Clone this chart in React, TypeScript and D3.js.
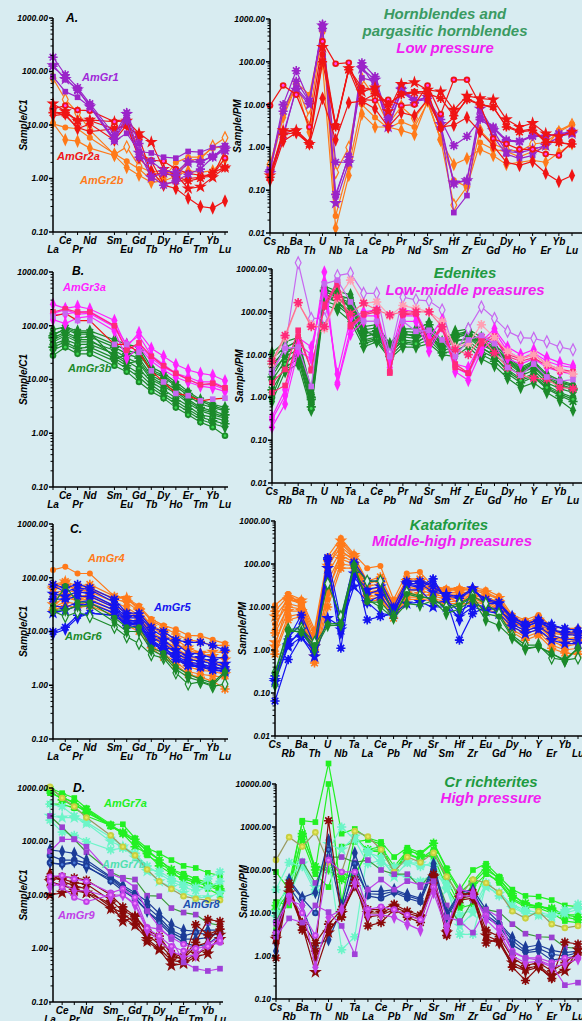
import React from "react";
import * as d3 from "d3";

const W = 582;
const H = 1021;
const BG = "#d8ecf1";
const FONT = "'Liberation Sans', Arial, sans-serif";

// element orders
const reeAxis = ["La", "Ce", "Pr", "Nd", "Pm", "Sm", "Eu", "Gd", "Tb", "Dy", "Ho", "Er", "Tm", "Yb", "Lu"];
const reeEls = ["La", "Ce", "Pr", "Nd", "Sm", "Eu", "Gd", "Tb", "Dy", "Ho", "Er", "Tm", "Yb", "Lu"];
const pmEls = ["Cs", "Rb", "Ba", "Th", "U", "Nb", "Ta", "La", "Ce", "Pb", "Pr", "Nd", "Sr", "Sm", "Hf", "Zr", "Eu", "Gd", "Dy", "Ho", "Y", "Er", "Yb", "Lu"];

// ---- A. hornblendes ----
const amGr1Ree = [
  [185, 87, 50, 25, 6.5, 17, 4.5, 1.1, 0.75, 0.9, 1.2, 1.5, 2.5, 4.0],
  [130, 72, 46, 22, 5.2, 16, 3.0, 1.05, 1.3, 1.1, 2.0, 2.1, 2.6, 3.5],
  [80, 42, 33, 22, 5.0, 7.0, 3.2, 3.0, 2.5, 2.4, 3.2, 3.1, 3.8, 4.1],
  [125, 75, 45, 23, 5.5, 12, 2.5, 2.1, 1.4, 1.3, 2.1, 2.0, 2.6, 3.3],
];
const amGr2aRee = [
  [25, 18, 12, 12.5, 11.5, 12, 7.0, 4.8, 1.5, 1.2, 0.65, 0.7, 1.05, 1.6],
  [20, 23, 19, 18.5, 11.5, 12.5, 3.0, 2.2, 2.1, 1.5, 1.25, 1.15, 1.15, 2.4],
  [15, 16, 8.5, 10.5, 5.2, 10, 2.4, 1.4, 0.75, 0.65, 0.43, 0.3, 0.28, 0.38],
  [17, 17, 12, 12, 8.5, 10, 6.0, 1.2, 1.25, 1.1, 0.9, 1.0, 1.3, 1.6],
  [18, 15, 9, 7.5, 8.5, 9.5, 2.6, 2.1, 0.8, 0.85, 1.0, 1.05, 1.1, 3.3],
];
const amGr2bRee = [
  [75, 30, 17, 8.0, 2.8, 3.9, 1.7, 1.3, 1.4, 1.15, 2.2, 2.3, 4.0, 5.8],
  [11, 5.3, 5.0, 3.7, 2.7, 1.6, 1.15, 0.85, 0.9, 1.1, 1.4, 1.3, 1.4, 2.3],
  [10.5, 9.0, 8.5, 5.8, 2.9, 2.1, 1.5, 0.95, 1.0, 2.0, 2.5, 2.5, 3.7, 4.0],
];
const amGr1Pm = [
  [0.3, 10, 62, 12, 750, 0.08, 0.6, 95, 45, 4.5, 25, 13, 14, 4.5, 1.1, 1.8, 4.5, 2.8, 1.4, 1.35, 1.8, 1.8, 2.1, 2.3],
  [0.25, 2.0, 22, 10, 700, 0.05, 0.45, 70, 38, 3.0, 22, 12, 15, 3.5, 0.15, 0.17, 8.0, 2.5, 0.8, 0.75, 0.9, 1.1, 1.8, 2.1],
  [0.2, 1.7, 25, 11, 650, 0.07, 0.65, 42, 35, 2.8, 20, 12, 13, 3.0, 0.03, 0.075, 7.0, 1.8, 0.7, 0.55, 0.65, 1.2, 1.7, 2.5],
  [0.28, 7.0, 35, 12, 600, 0.45, 0.45, 80, 25, 5.0, 25, 11, 16, 3.0, 0.14, 0.17, 5.0, 3.0, 1.5, 1.4, 1.9, 1.9, 2.0, 2.2],
];
const amGr2aPm = [
  [0.22, 2.5, 2.5, 1.2, 220, 3.2, 70, 20, 25, 7.0, 30, 33, 22, 20, 7.5, 16, 14, 13, 4.5, 3.0, 3.7, 2.1, 1.8, 2.3],
  [9.5, 28, 17, 3.0, 300, 90, 95, 13, 12.5, 13, 9.5, 10, 28, 6.0, 38, 38, 10, 1.6, 1.2, 0.9, 0.9, 0.7, 0.65, 1.35],
  [0.17, 1.4, 2.2, 1.2, 14, 1.5, 11, 12, 8.0, 3.0, 6.5, 5.5, 13, 3.0, 3.3, 5.0, 2.3, 1.1, 0.45, 0.38, 0.47, 0.25, 0.16, 0.22],
  [0.2, 2.0, 2.2, 1.2, 100, 3.0, 65, 12, 18, 10, 17, 19, 18, 14, 5.5, 13, 10, 9.0, 3.0, 2.3, 2.5, 1.3, 1.3, 1.2],
  [0.2, 2.2, 2.5, 1.3, 150, 3.3, 70, 25, 22, 10, 18, 20, 20, 2.7, 5.0, 14, 10, 8.5, 3.2, 2.4, 2.7, 1.4, 1.3, 1.15],
];
const amGr2bPm = [
  [0.4, 6.0, 30, 5.0, 550, 0.26, 1.0, 40, 15, 3.5, 9.0, 4.8, 13, 1.5, 0.045, 0.12, 2.5, 1.2, 0.9, 0.8, 1.2, 1.3, 2.3, 3.4],
  [0.3, 5.0, 27, 2.3, 90, 0.013, 0.22, 6.0, 3.0, 3.0, 2.5, 2.0, 12, 1.5, 0.4, 0.55, 0.9, 0.65, 0.4, 0.45, 0.5, 0.45, 0.75, 1.2],
  [0.35, 7.0, 33, 17, 500, 0.025, 0.35, 10, 5.0, 2.8, 4.0, 3.0, 11, 1.6, 0.17, 0.12, 1.3, 0.9, 0.8, 0.6, 0.8, 1.0, 2.5, 3.5],
];

// ---- B. edenites ----
const amGr3aRee = [
  [250, 210, 230, 205, 125, 40, 75, 38, 27, 19, 15, 13, 12, 9.5],
  [170, 200, 165, 170, 95, 35, 45, 25, 17, 13, 10, 8, 8, 6.5],
  [130, 110, 140, 150, 80, 25, 40, 22, 15, 11, 9, 7.5, 7, 6],
  [160, 165, 180, 185, 100, 45, 65, 28, 19, 13, 11, 9, 9, 7],
  [180, 205, 180, 180, 100, 35, 48, 27, 18, 13, 10, 8, 8.5, 7],
  [150, 170, 125, 125, 45, 45, 32, 14.5, 9, 5.5, 5, 4, 4.3, 4.5],
];
const amGr3bRee = [
  [85, 95, 80, 80, 55, 45, 40, 17, 13, 9, 6, 4.2, 3.5, 3],
  [70, 85, 70, 70, 45, 35, 30, 14, 11, 7.5, 5, 3.5, 3, 2.6],
  [60, 75, 60, 62, 40, 30, 25, 12, 9, 6.5, 4.3, 3, 2.6, 2.2],
  [50, 65, 50, 50, 35, 25, 20, 10, 7.5, 5.5, 3.6, 2.6, 2.2, 1.9],
  [45, 55, 45, 45, 30, 22, 16, 9, 6.5, 4.5, 3.2, 2.2, 2, 1.7],
  [40, 50, 38, 40, 25, 18, 13, 8, 5.5, 4, 2.8, 2, 1.7, 1.5],
  [35, 45, 35, 35, 22, 16, 11, 7, 5, 3.5, 2.5, 1.8, 1.5, 1.3],
  [28, 40, 30, 30, 18, 14, 9, 6, 4.5, 3, 2.2, 1.6, 1.3, 0.9],
  [65, 90, 75, 75, 25, 28, 35, 15, 12, 8, 5.5, 4, 3.2, 2.8],
  [55, 70, 55, 55, 28, 20, 22, 11, 8, 6, 4, 2.8, 2.4, 2.0],
];
const amGr3aPm = [
  [4, 14, 1400, 70, 70, 700, 800, 270, 270, 10, 220, 190, 180, 110, 10, 40, 130, 70, 35, 25, 24, 20, 15, 13],
  [0.2, 0.7, 12, 8, 850, 2, 30, 60, 60, 5, 60, 60, 12, 45, 4, 2.5, 12, 25, 8, 6, 8, 5, 4, 3.5],
  [0.3, 1.1, 18, 10, 500, 2.2, 40, 80, 80, 6, 80, 80, 15, 55, 5, 3.5, 15, 35, 12, 8, 11, 7, 5.5, 5],
  [0.35, 1.5, 25, 15, 300, 3.5, 70, 100, 110, 8, 110, 100, 25, 65, 6, 5, 20, 40, 15, 10, 13, 8.5, 6.5, 5.5],
  [2.2, 4.5, 37, 4.2, 150, 500, 50, 90, 110, 4, 90, 95, 18, 47, 6, 3.7, 22, 27, 10, 8, 10, 6, 4.5, 4],
  [1.3, 1.9, 27, 4.5, 130, 430, 45, 85, 100, 3.7, 85, 90, 20, 40, 5, 3.7, 18, 25, 9, 7, 8.5, 5.5, 4, 3.8],
  [6, 25, 160, 50, 40, 200, 550, 160, 170, 80, 140, 120, 100, 60, 15, 18, 50, 25, 12, 8, 10, 6, 4.5, 3.5],
  [7, 28, 165, 45, 45, 220, 90, 160, 110, 85, 100, 100, 100, 45, 13, 10, 25, 11, 5, 3.3, 2.8, 2.7, 1.7, 1.6],
  [3.8, 14, 15, 1.8, 450, 550, 170, 60, 60, 9, 60, 35, 37, 22, 9, 22, 28, 18, 5, 3.3, 6, 3, 2.4, 2.6],
];
const amGr3bPm = [
  [11, 20, 25, 1.5, 400, 300, 250, 45, 50, 18, 40, 40, 55, 20, 35, 40, 25, 17, 9, 5, 7, 3.5, 2.5, 2.0],
  [8, 15, 20, 1.2, 350, 250, 200, 38, 42, 15, 35, 33, 45, 18, 30, 35, 20, 14, 7.5, 4.3, 6, 3, 2.2, 1.8],
  [6, 12, 16, 1.0, 300, 220, 160, 32, 36, 13, 30, 28, 38, 16, 25, 30, 17, 12, 6.5, 3.7, 5, 2.6, 1.9, 1.5],
  [4, 9, 13, 0.8, 250, 200, 130, 27, 30, 11, 26, 24, 32, 14, 20, 25, 14, 10, 5.5, 3.2, 4.3, 2.2, 1.6, 1.3],
  [2.5, 7, 10, 0.7, 220, 170, 100, 22, 26, 10, 22, 20, 27, 12, 16, 21, 12, 8.5, 4.5, 2.7, 3.6, 1.9, 1.3, 1.0],
  [1.5, 5, 8, 0.6, 180, 140, 80, 18, 22, 9, 18, 17, 22, 11, 12, 18, 10, 7, 3.6, 2.2, 3, 1.6, 1.1, 0.8],
  [0.8, 4, 6, 0.5, 150, 110, 60, 15, 20, 8, 15, 15, 18, 10, 9, 15, 8, 5.5, 2.8, 1.7, 2.2, 1.3, 0.85, 0.5],
  [1.0, 6, 12, 0.55, 280, 160, 90, 20, 24, 12, 20, 18, 30, 13, 30, 28, 15, 9, 4, 2.5, 3.2, 1.7, 1.2, 0.9],
  [3, 10, 18, 0.9, 320, 260, 120, 35, 28, 16, 33, 25, 50, 15, 28, 33, 18, 13, 7, 4, 5.5, 2.8, 2.0, 1.6],
  [5, 14, 22, 1.3, 200, 200, 220, 25, 33, 14, 28, 30, 25, 17, 22, 22, 22, 15, 8, 4.6, 6.5, 3.2, 2.3, 1.9],
];

// ---- C. kataforites ----
const amGr4Ree = [
  [140, 160, 120, 120, 45, 42, 30, 17, 13, 11, 8.5, 8.3, 7, 6],
  [75, 85, 70, 75, 45, 40, 28, 16, 12, 9, 7, 6.5, 5.5, 5.5],
  [60, 70, 60, 65, 40, 35, 24, 12, 9, 6, 4.5, 3.8, 3.5, 3],
  [50, 60, 52, 55, 35, 28, 20, 10, 7, 5, 3.5, 3, 2.8, 2.5],
  [40, 50, 45, 48, 30, 22, 17, 8, 5.5, 4, 2.8, 2.4, 2.2, 2.0],
  [32, 42, 38, 40, 25, 18, 14, 6.5, 4.5, 3.2, 2.2, 1.9, 1.8, 1.6],
  [28, 36, 32, 35, 22, 15, 12, 5.5, 3.8, 2.7, 1.8, 1.6, 1.5, 1.4],
  [25, 30, 28, 30, 20, 13, 10, 5, 3.3, 2.4, 1.6, 1.4, 1.2, 0.85],
  [65, 85, 55, 60, 42, 42, 25, 13, 10, 7, 5, 4, 4.2, 4],
  [45, 55, 40, 45, 28, 25, 18, 9, 6, 4.5, 3.2, 2.8, 2.6, 2.3],
];
const amGr5Ree = [
  [75, 65, 75, 65, 40, 22, 22, 12, 10, 7, 6.3, 6.3, 5.5, 4.5],
  [70, 55, 65, 60, 35, 20, 20, 11, 8, 6, 4, 3.8, 3.2, 3.3],
  [50, 45, 55, 50, 30, 18, 18, 9, 7, 4.5, 3.5, 3.2, 2.8, 2.5],
  [40, 40, 45, 45, 28, 16, 16, 8, 6, 4, 3, 2.8, 2.5, 2.2],
  [30, 28, 35, 38, 25, 15, 15, 7, 5, 3.5, 2.7, 2.5, 2.2, 2.0],
  [22, 25, 30, 33, 22, 14, 14, 6.5, 4.5, 3.2, 2.4, 2.2, 2.0, 1.8],
  [10, 12, 20, 22, 20, 13, 12, 6, 4.5, 3, 2.3, 2.2, 1.9, 1.8],
  [9, 11, 18, 22, 20, 14, 13, 6.5, 5, 3.3, 2.5, 2.3, 2.1, 2.0],
];
const amGr6Ree = [
  [24, 19, 23, 19, 12, 8, 6, 3.7, 3.2, 1.7, 1.05, 1.15, 0.95, 1.05],
  [25, 25, 30, 30, 15, 10, 10, 4.5, 3.5, 2, 1.4, 1.2, 1.0, 1.7],
  [30, 70, 35, 35, 18, 12, 12, 5, 4, 2.2, 1.6, 1.3, 1.1, 1.8],
];
const amGr4Pm = [
  [11, 20, 15, 3, 150, 400, 170, 80, 90, 15, 60, 65, 30, 27, 27, 28, 25, 18, 6.5, 5, 6.5, 3.5, 3.2, 3.2],
  [8, 18, 13, 2.5, 120, 300, 150, 40, 50, 12, 45, 45, 30, 25, 25, 25, 20, 15, 6, 4.5, 5.5, 3, 2.5, 2.8],
  [6, 15, 12, 2, 90, 250, 140, 30, 35, 10, 35, 35, 25, 22, 22, 22, 17, 13, 5, 4, 4.5, 2.5, 2.2, 2.3],
  [4, 12, 10, 1.5, 60, 200, 130, 25, 28, 9, 28, 30, 22, 20, 20, 20, 15, 11, 4.5, 3.3, 4, 2.2, 1.8, 2],
  [2.5, 10, 9, 1.0, 40, 160, 110, 20, 23, 8, 23, 25, 20, 17, 18, 18, 13, 10, 4, 2.8, 3.5, 1.9, 1.5, 1.7],
  [1.5, 8, 8, 0.7, 25, 130, 100, 17, 19, 7, 20, 20, 18, 15, 16, 16, 12, 9, 3.5, 2.4, 3, 1.6, 1.2, 1.4],
  [1.0, 6, 7, 0.55, 15, 100, 90, 15, 17, 6, 17, 17, 16, 13, 14, 14, 11, 8, 3, 2, 2.6, 1.3, 1.0, 1.1],
  [0.8, 5, 6, 0.5, 10, 80, 80, 13, 15, 5.5, 15, 15, 14, 12, 12, 12, 9, 7, 2.6, 1.7, 2.2, 1.1, 0.85, 0.8],
  [1.2, 14, 14, 1.2, 80, 350, 160, 35, 42, 11, 40, 40, 27, 24, 26, 26, 22, 16, 5.5, 4.2, 5, 2.8, 2.3, 2.5],
  [3, 20, 11, 0.9, 20, 200, 120, 22, 25, 13, 25, 28, 28, 18, 12, 22, 15, 12, 4.5, 3.2, 3.8, 2, 1.7, 1.9],
];
const amGr5Pm = [
  [0.065, 0.6, 2, 0.9, 130, 1.1, 100, 5, 6, 7, 35, 30, 45, 15, 1.7, 7, 10, 8, 5, 3.5, 4.5, 3.8, 3.2, 2.8],
  [0.25, 1.5, 2.5, 1.0, 100, 2.5, 80, 13, 7, 6.5, 33, 28, 40, 14, 5, 27, 12, 12, 6, 4, 5, 3.8, 3, 3],
  [0.2, 1.3, 3, 1.2, 80, 3, 60, 25, 30, 8, 35, 35, 22, 20, 17, 27, 14, 12, 5, 3.5, 4.5, 3, 2.5, 2.5],
  [0.25, 1.8, 6.5, 1.3, 140, 5, 110, 40, 40, 10, 40, 40, 30, 18, 16, 25, 15, 13, 5.5, 4, 5, 3, 2.3, 2.2],
  [0.22, 2, 4, 0.8, 60, 4, 50, 20, 25, 8, 25, 25, 12, 14, 8, 12, 10, 9, 4, 2.8, 3.5, 2.2, 1.8, 1.7],
  [0.18, 1.2, 2, 0.7, 5.5, 3.5, 30, 13, 18, 7, 12, 13, 10, 10, 6, 10, 8, 7, 3.5, 2.4, 3, 1.7, 1.4, 1.4],
];
const amGr6Pm = [
  [0.3, 3, 3.2, 1.5, 35, 6, 90, 40, 40, 6, 22, 18, 15, 10, 12, 18, 12, 7, 2.2, 1.3, 1.3, 0.65, 0.58, 0.65],
  [0.15, 2.7, 2.7, 1.0, 3.7, 3.8, 85, 15, 10, 5.5, 12, 11, 14, 7, 9, 15, 5, 3.7, 1.9, 1.05, 1.2, 0.85, 0.55, 1.1],
  [0.28, 3, 2.5, 1.3, 4, 4.2, 95, 13, 13, 6, 20, 17, 16, 9, 11, 17, 7, 6, 2, 1.1, 1.2, 0.8, 0.6, 1.1],
];

// ---- D. Cr richterites ----
const amGr7aRee = [
  [1000, 800, 650, 420, 210, 210, 115, 75, 60, 45, 35, 32, 26, 23],
  [950, 700, 500, 350, 200, 150, 110, 65, 45, 30, 22, 18, 16, 13],
  [500, 500, 420, 300, 200, 140, 100, 55, 40, 28, 18, 15, 13, 10],
  [900, 600, 450, 400, 200, 140, 80, 60, 35, 25, 20, 17, 15, 12],
  [800, 650, 550, 380, 190, 145, 100, 70, 45, 30, 25, 20, 17, 14],
];
const amGr7bRee = [
  [250, 150, 130, 100, 70, 75, 60, 30, 28, 20, 16, 14, 20, 27],
  [500, 450, 300, 230, 120, 80, 60, 35, 25, 18, 14, 12, 14, 18],
  [300, 280, 280, 220, 100, 80, 50, 28, 18, 14, 11, 9, 9, 11],
  [1050, 650, 450, 280, 130, 80, 55, 30, 18, 13, 9.5, 8.5, 8, 8],
  [300, 185, 110, 63, 27, 21, 19.5, 9.7, 9.5, 5.7, 4.7, 4.3, 3.0, 2.7],
];
const amGr8Ree = [
  [70, 65, 60, 45, 22, 15, 11, 7.5, 4.5, 2.8, 2.2, 2.1, 2.2, 2.2],
  [55, 45, 45, 40, 21, 14, 10, 6, 3.8, 2.2, 1.7, 2.0, 1.8, 1.9],
  [40, 38, 42, 33, 20, 13, 9, 5, 3.3, 2.0, 1.5, 1.5, 1.6, 2.0],
  [40, 37, 40, 35, 18, 12, 8.5, 5, 3, 1.8, 1.3, 1.1, 1.2, 1.8],
];
const amGr9Ree = [
  [22, 22, 21, 19, 10, 6, 4, 2.2, 1.7, 0.8, 0.7, 1.3, 3.5, 3.2],
  [10, 11, 12, 11, 7, 3.2, 4, 1.35, 0.95, 0.48, 0.52, 0.7, 0.8, 1.8],
  [20, 20, 17, 16, 8, 5, 4, 2, 1.5, 0.8, 0.6, 2.8, 1.8, 2.3],
  [25, 18, 15, 13, 6, 4.5, 3, 1.8, 1.2, 0.7, 0.65, 1.1, 1.3, 2.6],
  [18, 15, 13, 11, 5.5, 3.8, 2.7, 1.5, 1.0, 0.6, 0.55, 0.8, 1.0, 1.5],
  [22, 23, 20, 18, 11, 13, 9, 2.5, 2.3, 1.6, 1.2, 1.0, 1.1, 1.3],
  [14, 17, 12, 12, 9, 10, 6.5, 2.2, 1.4, 0.9, 0.7, 0.75, 1.2, 1.6],
  [18, 14, 9, 7.5, 10, 10, 7, 2.4, 1.7, 1.1, 0.9, 1.0, 1.1, 1.4],
  [65, 110, 110, 80, 25, 20, 14, 5, 2.5, 1.5, 0.55, 0.42, 0.38, 0.42],
];
const amGr7aPm = [
  [90, 35, 1400, 1300, 30000, 700, 900, 550, 450, 200, 330, 250, 430, 110, 35, 100, 140, 70, 35, 25, 24, 20, 15, 14],
  [15, 40, 600, 120, 100, 60, 80, 270, 270, 100, 250, 180, 250, 60, 15, 50, 100, 65, 25, 17, 14, 12, 8, 7],
  [18, 15, 500, 80, 40, 350, 450, 500, 400, 80, 300, 220, 200, 40, 13, 16, 90, 50, 20, 14, 13, 10, 6.5, 6],
  [12, 30, 700, 100, 150, 80, 70, 300, 350, 120, 280, 230, 420, 100, 30, 55, 120, 60, 28, 15, 14, 13, 9, 8],
  [4, 50, 1300, 100, 10000, 18, 600, 280, 300, 90, 230, 180, 300, 80, 20, 40, 80, 55, 22, 15, 15, 11, 9, 9],
];
const amGr7bPm = [
  [35, 150, 120, 30, 300, 1000, 500, 140, 170, 80, 70, 55, 80, 50, 3.2, 3.2, 45, 25, 15, 10, 9, 8, 10, 16],
  [10, 60, 150, 35, 200, 1.4, 2.8, 280, 140, 120, 150, 120, 150, 40, 9, 12, 50, 30, 15, 12, 10, 9, 12, 14],
  [8, 25, 140, 40, 400, 300, 600, 250, 200, 70, 150, 140, 120, 35, 5, 10, 40, 28, 13, 10, 9, 8, 10, 12],
  [170, 580, 350, 750, 150, 90, 800, 600, 300, 90, 200, 150, 250, 70, 25, 60, 50, 30, 11, 7.5, 11, 5.5, 4.5, 5],
  [6, 30, 160, 50, 200, 200, 150, 170, 100, 80, 80, 40, 100, 15, 6, 20, 12, 10.5, 5.5, 3.3, 2.8, 2.7, 1.6, 1.5],
];
const amGr8Pm = [
  [1.3, 60, 23, 30, 500, 15, 250, 32, 32, 35, 27, 22, 140, 10, 30, 35, 12, 6, 2.7, 1.6, 1.8, 1.35, 1.2, 1.3],
  [3, 50, 22, 10, 300, 10, 140, 25, 22, 30, 22, 18, 100, 9, 28, 30, 9, 5.5, 2.3, 1.3, 1.5, 1.1, 1.0, 1.2],
  [2, 40, 15, 1.8, 2.4, 12, 100, 28, 27, 32, 25, 20, 120, 8, 25, 32, 8, 5, 1.8, 1.2, 1.3, 0.8, 0.9, 1.0],
];
const amGr9Pm = [
  [0.9, 50, 4, 1.3, 1400, 8, 60, 5, 6, 12, 8, 6, 50, 3, 25, 30, 2, 2.5, 0.55, 0.27, 0.55, 0.3, 2.1, 1.9],
  [2.5, 30, 5, 0.42, 3.5, 10, 40, 10, 10, 14, 10, 8, 70, 3.5, 22, 25, 3, 2.2, 0.7, 0.5, 0.6, 0.35, 0.45, 1.4],
  [3, 40, 6, 2, 5.5, 12, 50, 12, 12, 16, 11, 9, 80, 4, 28, 28, 4, 2.8, 0.9, 0.6, 0.7, 0.45, 0.7, 1.2],
  [2.2, 35, 5.5, 0.9, 4, 9, 45, 8, 9, 12, 9, 7, 60, 3.2, 20, 22, 2.5, 2.0, 0.6, 0.45, 0.55, 0.32, 0.55, 0.95],
  [3.5, 25, 10, 3, 170, 90, 90, 12, 14, 12, 9, 7, 40, 5, 25, 25, 9, 4.5, 1.3, 0.9, 0.9, 0.7, 0.9, 0.9],
  [6, 20, 15, 0.55, 8, 12, 50, 9, 9, 8, 5.5, 4, 30, 4, 35, 30, 7, 3.5, 1.0, 0.7, 0.75, 0.55, 0.65, 0.85],
  [2.8, 7.5, 6, 15, 10.5, 5, 1.1, 35, 60, 35, 55, 45, 55, 8, 6.5, 3.5, 12, 8, 1.2, 0.9, 0.8, 0.6, 0.21, 0.24],
];

// colours
const PURPLE = "#9b24c9";
const RED = "#f01414";
const ORANGE = "#ff7a1a";
const MAGENTA = "#ff22ff";
const PINKSQ = "#ff2a7a";
const LTPINK = "#ffa0b4";
const LAVENDER = "#c868f0";
const DKGREEN = "#1b8a2a";
const LTGREEN = "#3ad650";
const BLUE = "#1414f0";
const BRGREEN = "#22f022";
const AQUA = "#6cf5c8";
const NAVY = "#1c3c98";
const DKRED = "#8a0a0a";
const VIOLET = "#c040e8";
const TGREEN = "#1e9a40";
const TMAG = "#f020f0";

type Sty = { m: string; c: string; lc?: string; dc?: string };
type Grp = { rows: number[][]; sty: Sty[] };
type Box = {
  axis: string[]; els: string[]; ax: number; xa: number; xb: number; xend: number;
  yt: number; yb: number; dom: [number, number]; title: string; tx: number; up: number;
};

const diamondD = d3.symbol(d3.symbolDiamond, 44)()!;
const odiamondD = d3.symbol(d3.symbolDiamond, 36)()!;
const squareD = d3.symbol(d3.symbolSquare, 32)()!;
const starD = d3.symbol(d3.symbolStar, 52)()!;
const burstD = "M-4.6,0H4.6M0,-4.6V4.6M-3.3,-3.3L3.3,3.3M-3.3,3.3L3.3,-3.3";

function Mark({ s, x, y }: { s: Sty; x: number; y: number }) {
  const t = `translate(${x},${y})`;
  switch (s.m) {
    case "dot":
      return (
        <g transform={t}>
          <circle r={3.3} fill={s.c} />
          <circle r={1.4} fill={s.dc || "#ff44ff"} />
        </g>
      );
    case "diamond":
      return <path transform={`${t} scale(0.85,1.1)`} d={diamondD} fill={s.c} />;
    case "odiamond":
      return <path transform={`${t} scale(0.9,1.05)`} d={odiamondD} fill={BG} stroke={s.c} strokeWidth={1.3} />;
    case "square":
      return <path transform={t} d={squareD} fill={s.c} />;
    case "star":
      return <path transform={t} d={starD} fill={s.c} />;
    case "burst":
      return (
        <g transform={t}>
          <circle r={2.7} fill={s.c} />
          <path d={burstD} stroke={s.c} strokeWidth={1.6} />
        </g>
      );
    default:
      return <circle cx={x} cy={y} r={3} fill={s.c} />;
  }
}

const fmt = d3.format(".2f");

function Spider({ p, groups }: { p: Box; groups: Grp[] }) {
  const x = d3.scalePoint<string>().domain(p.axis).range([p.xa, p.xb]);
  const y = d3.scaleLog().domain(p.dom).range([p.yb, p.yt]);
  const pos = (i: number) => x(p.els[i])!;
  const line = d3.line<number>().x((_, i) => pos(i)).y((v) => y(v));
  const lo = Math.round(Math.log10(p.dom[0]));
  const hi = Math.round(Math.log10(p.dom[1]));
  const majors = d3.range(lo, hi + 1).map((e) => Math.pow(10, e));
  const minors = majors.slice(0, -1).flatMap((v) => d3.range(2, 10).map((k) => k * v));
  return (
    <g>
      {groups.map((g, gi) =>
        g.rows.map((r, ri) => {
          const s = g.sty[ri % g.sty.length];
          return (
            <g key={`${gi}-${ri}`}>
              <path d={line(r)!} fill="none" stroke={s.lc || s.c} strokeWidth={1.2} />
              {r.map((v, i) => (
                <Mark key={i} s={s} x={pos(i)} y={y(v)} />
              ))}
            </g>
          );
        })
      )}
      <line x1={p.ax} x2={p.ax} y1={p.yt} y2={p.yb} stroke="#000" strokeWidth={1.5} />
      <line x1={p.ax} x2={p.xend} y1={p.yb} y2={p.yb} stroke="#000" strokeWidth={1.5} />
      {minors.map((v, i) => (
        <line key={"n" + i} x1={p.ax - 2.5} x2={p.ax} y1={y(v)} y2={y(v)} stroke="#000" strokeWidth={1} />
      ))}
      {majors.map((v, i) => (
        <g key={"m" + i}>
          <line x1={p.ax - 4} x2={p.ax} y1={y(v)} y2={y(v)} stroke="#000" strokeWidth={1.5} />
          <text x={p.ax - 5} y={y(v)} dy="0.35em" textAnchor="end" fontSize={8.5}
            fontWeight="bold" fontStyle="italic" fontFamily={FONT}>{fmt(v)}</text>
        </g>
      ))}
      {p.axis.map((el, i) =>
        el === "Pm" ? null : (
          <g key={"x" + i}>
            <line x1={x(el)} x2={x(el)} y1={p.yb} y2={p.yb + 3} stroke="#000" strokeWidth={1} />
            <text x={x(el)} y={p.yb + (i % 2 === p.up ? 12 : 21)} textAnchor="middle" fontSize={10}
              fontWeight="bold" fontStyle="italic" fontFamily={FONT}>{el}</text>
          </g>
        )
      )}
      <text transform={`translate(${p.tx},${(p.yt + p.yb) / 2}) rotate(-90)`} textAnchor="middle"
        fontSize={10} fontWeight="bold" fontStyle="italic" fontFamily={FONT}>{p.title}</text>
    </g>
  );
}

const reeBox = (yt: number, yb: number, xa = 53, xb = 225): Box => ({
  axis: reeAxis, els: reeEls, ax: 53, xa, xb, xend: xb + 3, yt, yb,
  dom: [0.1, 1000], title: "Sample/C1", tx: 27, up: 1,
});
const pmBox = (ax: number, xb: number, yt: number, yb: number, dom: [number, number] = [0.01, 1000]): Box => ({
  axis: pmEls, els: pmEls, ax, xa: ax, xb, xend: W, yt, yb, dom, title: "Sample/PM", tx: ax - 29, up: 0,
});

const gtxt = (x: number, y: number, c: string, t: string, size = 11, anchor = "start") => (
  <text x={x} y={y} fill={c} fontSize={size} fontWeight="bold" fontStyle="italic"
    fontFamily={FONT} textAnchor={anchor}>{t}</text>
);

export default function App() {
  // styles per group
  const sA1: Sty[] = [{ m: "burst", c: PURPLE }, { m: "star", c: PURPLE }, { m: "square", c: PURPLE }, { m: "burst", c: PURPLE }];
  const sA2a: Sty[] = [{ m: "star", c: RED }, { m: "dot", c: RED }, { m: "diamond", c: RED }, { m: "burst", c: RED }, { m: "circle", c: RED }];
  const sA2b: Sty[] = [{ m: "odiamond", c: ORANGE }, { m: "diamond", c: ORANGE }, { m: "circle", c: ORANGE }];
  const sB3aRee: Sty[] = [
    { m: "diamond", c: MAGENTA }, { m: "diamond", c: MAGENTA }, { m: "diamond", c: MAGENTA },
    { m: "diamond", c: MAGENTA }, { m: "square", c: PINKSQ }, { m: "square", c: LAVENDER, lc: RED },
  ];
  const sB3aPm: Sty[] = [
    { m: "odiamond", c: LAVENDER }, { m: "diamond", c: MAGENTA }, { m: "diamond", c: MAGENTA },
    { m: "diamond", c: MAGENTA }, { m: "square", c: PINKSQ }, { m: "square", c: PINKSQ },
    { m: "burst", c: LTPINK }, { m: "burst", c: PINKSQ, lc: "#ff7090" }, { m: "square", c: LAVENDER },
  ];
  const sB3b: Sty[] = [{ m: "diamond", c: DKGREEN }, { m: "dot", c: DKGREEN, dc: LTGREEN }, { m: "burst", c: DKGREEN }];
  const sC4: Sty[] = [{ m: "circle", c: ORANGE }, { m: "burst", c: ORANGE }, { m: "star", c: ORANGE }];
  const sC5: Sty[] = [{ m: "burst", c: BLUE }, { m: "diamond", c: BLUE }, { m: "star", c: BLUE }];
  const sC6: Sty[] = [{ m: "odiamond", c: DKGREEN }, { m: "diamond", c: DKGREEN }, { m: "circle", c: DKGREEN }];
  const sD7a: Sty[] = [{ m: "square", c: BRGREEN }, { m: "burst", c: BRGREEN }];
  const sD7b: Sty[] = [
    { m: "burst", c: AQUA }, { m: "burst", c: AQUA }, { m: "star", c: AQUA },
    { m: "dot", c: "#c8d040", lc: "#9a9a60", dc: "#e8e860" }, { m: "square", c: "#9a40d0", lc: "#3a9a3a" },
  ];
  const sD8: Sty[] = [{ m: "diamond", c: NAVY }, { m: "dot", c: NAVY, dc: "#4a7ad8" }];
  const sD9: Sty[] = [
    { m: "burst", c: DKRED }, { m: "star", c: DKRED }, { m: "burst", c: DKRED }, { m: "diamond", c: DKRED },
    { m: "star", c: DKRED }, { m: "dot", c: VIOLET, dc: "#f080ff" }, { m: "diamond", c: VIOLET },
    { m: "dot", c: VIOLET, dc: "#f080ff" }, { m: "square", c: "#a040d8", lc: VIOLET },
  ];
  const sD9Pm: Sty[] = [
    { m: "burst", c: DKRED }, { m: "star", c: DKRED }, { m: "burst", c: DKRED }, { m: "diamond", c: DKRED },
    { m: "dot", c: VIOLET, dc: "#f080ff" }, { m: "diamond", c: VIOLET }, { m: "square", c: "#a040d8", lc: VIOLET },
  ];

  return (
    <svg width={W} height={H} style={{ position: "absolute", left: 0, top: 0, display: "block" }}>
      <rect width={W} height={H} fill={BG} />

      {/* A */}
      <Spider p={reeBox(18, 232)} groups={[
        { rows: amGr2bRee, sty: sA2b }, { rows: amGr2aRee, sty: sA2a }, { rows: amGr1Ree, sty: sA1 },
      ]} />
      <Spider p={pmBox(270, 572, 19, 233)} groups={[
        { rows: amGr2bPm, sty: sA2b }, { rows: amGr1Pm, sty: sA1 }, { rows: amGr2aPm, sty: sA2a },
      ]} />
      {gtxt(66, 22, "#000", "A.", 12)}
      {gtxt(82, 81, "#a028d8", "AmGr1")}
      {gtxt(57, 160, RED, "AmGr2a")}
      {gtxt(80, 184, ORANGE, "AmGr2b")}
      {gtxt(445, 19, "#3a9a62", "Hornblendes and", 15, "middle")}
      {gtxt(445, 36, "#3a9a62", "pargasitic hornblendes", 15, "middle")}
      {gtxt(445, 53, TMAG, "Low pressure", 15, "middle")}

      {/* B */}
      <Spider p={reeBox(272, 487)} groups={[
        { rows: amGr3bRee, sty: sB3b }, { rows: amGr3aRee, sty: sB3aRee },
      ]} />
      <Spider p={pmBox(272, 573, 269, 483)} groups={[
        { rows: amGr3bPm, sty: sB3b }, { rows: amGr3aPm, sty: sB3aPm },
      ]} />
      {gtxt(72, 275, "#000", "B.", 12)}
      {gtxt(63, 291, MAGENTA, "AmGr3a")}
      {gtxt(68, 372, DKGREEN, "AmGr3b")}
      {gtxt(465, 278, TGREEN, "Edenites", 15, "middle")}
      {gtxt(465, 295, TMAG, "Low-middle preasures", 15, "middle")}

      {/* C */}
      <Spider p={reeBox(524, 739)} groups={[
        { rows: amGr4Ree, sty: sC4 }, { rows: amGr5Ree, sty: sC5 }, { rows: amGr6Ree, sty: sC6 },
      ]} />
      <Spider p={pmBox(275, 578, 521, 736)} groups={[
        { rows: amGr4Pm, sty: sC4 }, { rows: amGr5Pm, sty: sC5 }, { rows: amGr6Pm, sty: sC6 },
      ]} />
      {gtxt(70, 533, "#000", "C.", 12)}
      {gtxt(88, 562, ORANGE, "AmGr4")}
      {gtxt(154, 611, BLUE, "AmGr5")}
      {gtxt(65, 640, DKGREEN, "AmGr6")}
      {gtxt(449, 530, TGREEN, "Kataforites", 15, "middle")}
      {gtxt(452, 546, TMAG, "Middle-high preasures", 15, "middle")}

      {/* D */}
      <Spider p={reeBox(788, 1002, 50, 220)} groups={[
        { rows: amGr7aRee, sty: sD7a }, { rows: amGr7bRee, sty: sD7b },
        { rows: amGr8Ree, sty: sD8 }, { rows: amGr9Ree, sty: sD9 },
      ]} />
      <Spider p={pmBox(276, 578, 784, 999, [0.1, 10000])} groups={[
        { rows: amGr7aPm, sty: sD7a }, { rows: amGr7bPm, sty: sD7b },
        { rows: amGr8Pm, sty: sD8 }, { rows: amGr9Pm, sty: sD9Pm },
      ]} />
      {gtxt(73, 792, "#000", "D.", 12)}
      {gtxt(104, 807, BRGREEN, "AmGr7a")}
      {gtxt(102, 868, "#50e0b0", "AmGr7b")}
      {gtxt(183, 908, "#1c50b0", "AmGr8")}
      {gtxt(58, 919, VIOLET, "AmGr9")}
      {gtxt(491, 787, TGREEN, "Cr richterites", 15, "middle")}
      {gtxt(491, 803, TMAG, "High pressure", 15, "middle")}
    </svg>
  );
}
